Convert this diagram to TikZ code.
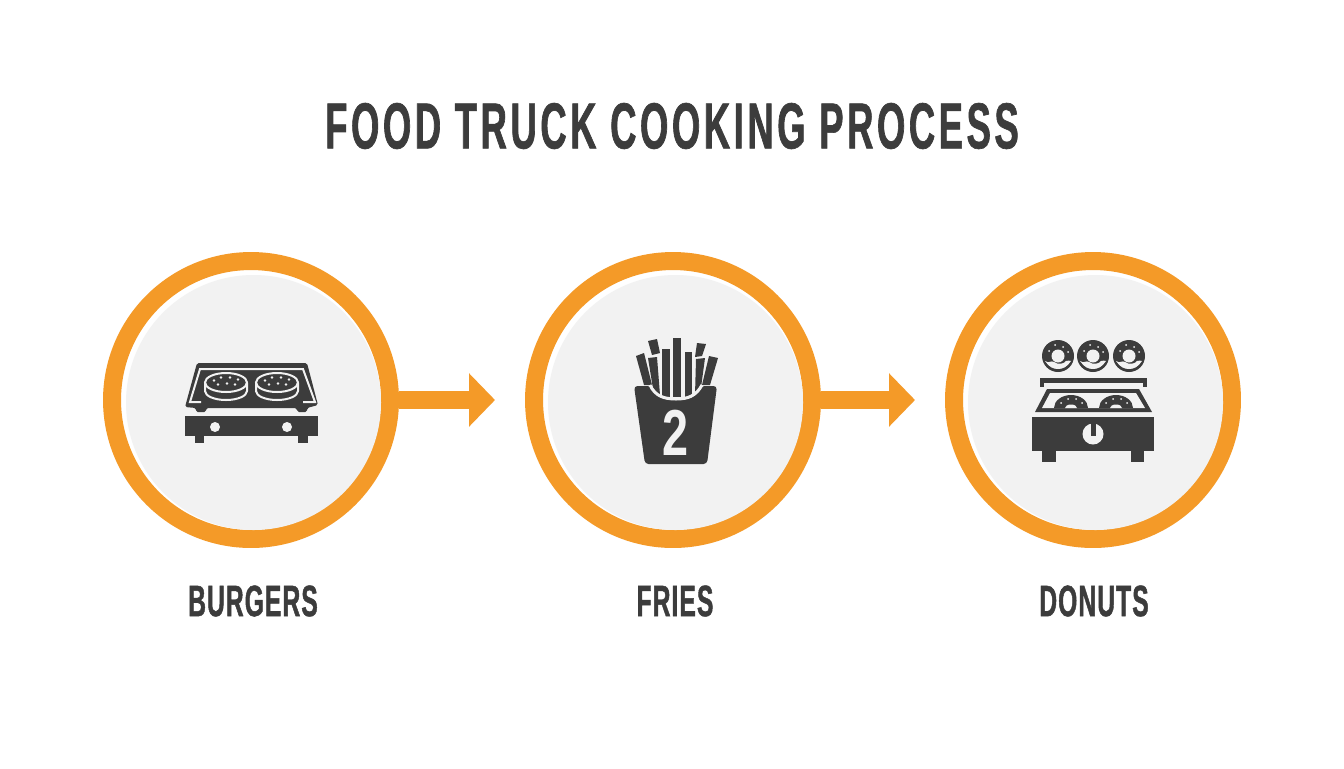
\documentclass[tikz,border=0pt]{standalone}
\usepackage{fontspec}
\setmainfont[BoldFeatures={FakeStretch=0.56,FakeBold=1.0}]{Liberation Sans}
\newfontfamily\numberfont[FakeStretch=0.72]{Liberation Sans Bold}
\usetikzlibrary{arrows.meta}
\definecolor{ringorange}{HTML}{F49A28}
\definecolor{diskgray}{HTML}{F2F2F2}
\definecolor{icondark}{HTML}{3C3C3C}
\tikzset{
  stepring/.style={circle,draw=ringorange,line width=0.36cm,fill=white,minimum size=5.56cm,inner sep=0pt},
  stepname/.style={font=\bfseries\fontsize{25}{30}\selectfont\addfontfeature{LetterSpace=2.5},text=icondark},
  flowarrow/.style={draw=ringorange,line width=0.36cm,-{Triangle[length=0.52cm,width=1.04cm,fill=ringorange]}},
  iconfill/.style={fill=icondark,draw=none},
  iconcut/.style={draw=diskgray,line width=0.04cm,fill=icondark}
}
\begin{document}
\begin{tikzpicture}[x=0.02cm,y=-0.02cm]
	\useasboundingbox (0,0) rectangle (1344,768);
	\fill[white] (0,0) rectangle (1344,768); %Fundo
		%Titulo
	\node[font=\bfseries\fontsize{37}{44}\selectfont\addfontfeature{LetterSpace=5.5},text=icondark] (title) at (672,126) {FOOD TRUCK COOKING PROCESS};
		%Etapas
	\node[stepring] (burgers) at (251,400) {};
	\node[stepring] (fries) at (673,400) {};
	\node[stepring] (donuts) at (1093,400) {};
	\foreach \cx in {251,673,1093}
		\fill[diskgray] (\cx+2.5,402.5) circle (127.5);
	\node[stepname] (burgerslabel) at (253,601) {BURGERS};
	\node[stepname] (frieslabel) at (675,601) {FRIES};
	\node[stepname] (donutslabel) at (1094,601) {DONUTS};
		%Setas
	\coordinate (tipone) at (495,400);
	\coordinate (tiptwo) at (915,400);
	\draw[flowarrow] (burgers.east) -- (tipone);
	\draw[flowarrow] (fries.east) -- (tiptwo);
		%Chapa
	\fill[iconfill,rounded corners=1] (197,363) -- (307,363) -- (318,405) -- (307,408) -- (307,412) -- (297,412) -- (297,408) -- (206,408) -- (206,412) -- (196,412) -- (196,408) -- (185,407) -- cycle;
	\draw[diskgray,line width=0.04cm] (201,402) -- (190,402) -- (200,369) -- (303,369) -- (315,402) -- (303,402);
	\foreach \cx in {226,277}{
		\draw[iconcut] (\cx-21,383) -- (\cx-21,391) arc (180:0:21 and 9) -- (\cx+21,383);
		\draw[iconcut] (\cx,382.5) ellipse (21 and 9.5);
		\foreach \dx/\dy in {-12/-2,-5/-5,4/-5,12/-3,-8/2,1/1,9/2}
			\fill[diskgray] (\cx+\dx,382.5+\dy) circle (1.3);
	}
	\fill[iconfill] (185,416) rectangle (318,436);
	\fill[iconfill] (195,436) rectangle (204,443);
	\fill[iconfill] (298,436) rectangle (308,443);
	\fill[diskgray] (215,427) circle (5);
	\fill[diskgray] (287,427) circle (5);
		%Batatas
	\fill[iconfill] (636,356) -- (644,353) -- (652,385) -- (644,385) -- cycle;
	\fill[iconfill] (648,341) -- (657,339) -- (660,353) -- (652,355) -- cycle;
	\fill[iconfill] (648,358) -- (657,357) -- (660,395) -- (654,395) -- cycle;
	\fill[iconfill] (662,349) rectangle (670,397);
	\fill[iconfill] (673,338) rectangle (681,397);
	\fill[iconfill] (685,352) rectangle (692,397);
	\fill[iconfill] (697,343) -- (706,344) -- (702,356) -- (695,357) -- cycle;
	\fill[iconfill] (696,359) -- (705,358) -- (700,395) -- (695,395) -- cycle;
	\fill[iconfill] (709,356) -- (718,358) -- (710,385) -- (702,385) -- cycle;
	\fill[iconfill,rounded corners=2] (634,386) -- (651,386) .. controls (656,397) and (664,400) .. (676,400) .. controls (688,400) and (696,397) .. (701,386) -- (717,386) -- (707,464) -- (645,464) -- cycle;
	\draw[diskgray,line width=0.06cm] (650,385) .. controls (655,396) and (664,399) .. (676,399) .. controls (688,399) and (696,396) .. (702,385);
	\node[font=\numberfont\fontsize{37}{40}\selectfont,text=diskgray] (friesnumber) at (676,433) {2};
		%Rosquinhas
	\foreach \cx in {1058,1093,1129}{
		\fill[icondark] (\cx,356) circle (16);
		\fill[diskgray] (\cx-13,361) .. controls (\cx-9,364) and (\cx-7,360) .. (\cx-4,362) .. controls (\cx,365) and (\cx+6,364) .. (\cx+8,361) .. controls (\cx+10,360) and (\cx+11,361) .. (\cx+13,361) .. controls (\cx+9,367) and (\cx+5,369) .. (\cx,369) .. controls (\cx-5,369) and (\cx-9,367) .. cycle;
		\fill[diskgray] (\cx,356) circle (6.5);
		\foreach \dx/\dy in {-9/-5,-3/-11,5/-9,10/-4}
			\fill[diskgray] (\cx+\dx,356+\dy) circle (1);
	}
	\fill[iconfill] (1040,378) rectangle (1147,383);
	\fill[iconfill] (1040,383) rectangle (1044,387);
	\fill[iconfill] (1143,383) rectangle (1147,387);
	\fill[iconfill] (1047,389) -- (1139,389) -- (1152,412) -- (1035,412) -- cycle;
	\fill[diskgray] (1050,393) -- (1136,393) -- (1145,408) -- (1042,408) -- cycle;
	\foreach \cx in {1071,1116}{
		\fill[icondark] (\cx-17,408) arc (180:360:17 and 13) -- cycle;
		\fill[diskgray] (\cx-6,408) arc (180:360:6 and 3.5) -- cycle;
		\foreach \dx/\dy in {-10/-5,-3/-9,5/-9,11/-5}
			\fill[diskgray] (\cx+\dx,408+\dy) circle (1);
	}
	\fill[iconfill] (1032,417) rectangle (1154,451);
	\fill[iconfill] (1042,451) rectangle (1056,462);
	\fill[iconfill] (1131,451) rectangle (1144,462);
	\fill[diskgray] (1093,434) circle (10.5);
	\fill[icondark] (1090.5,423) rectangle (1095.5,436);
\end{tikzpicture}
\end{document}
